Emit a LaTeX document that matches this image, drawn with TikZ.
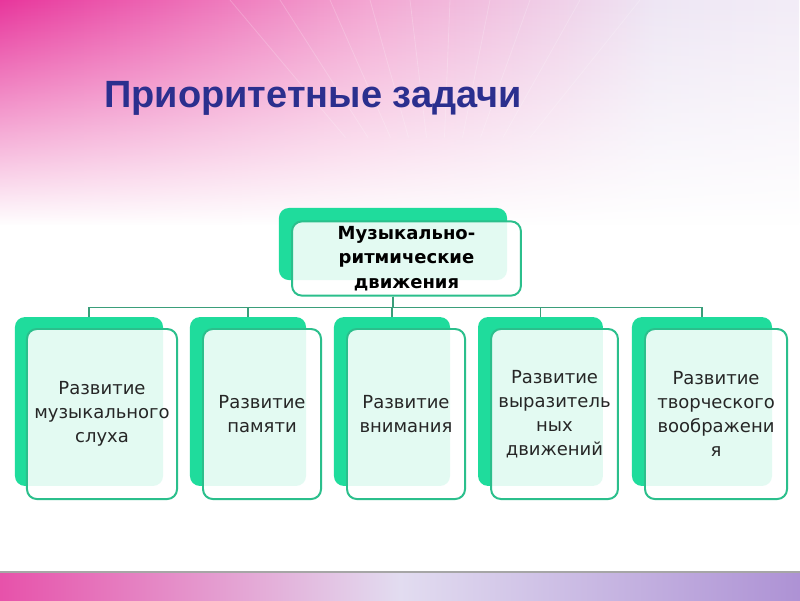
\documentclass[tikz,border=0pt]{standalone}
\usepackage{fontspec}
\setmainfont{DejaVu Sans}
\newfontfamily\titlefont{Liberation Sans}
\usepackage{xcolor}
\usepackage{tikz}
\usetikzlibrary{positioning,calc,fadings,shadings}
\definecolor{mint}{HTML}{1FDC9C}
\definecolor{mintline}{HTML}{2BBF8C}
\definecolor{linkgreen}{HTML}{3A9E7A}
\definecolor{titleblue}{HTML}{2B2F8E}
\definecolor{bodytext}{HTML}{262626}
\definecolor{pinkA}{HTML}{F07AB8}
\definecolor{pinkB}{HTML}{E8369C}
\definecolor{pinkC}{HTML}{F3A6D2}
\definecolor{lavA}{HTML}{EEE6F4}
\definecolor{purpA}{HTML}{A383CF}
\definecolor{lavB}{HTML}{E2DCF0}
\pgfdeclarehorizontalshading{banner}{100bp}{color(0bp)=(pinkA); color(25bp)=(pinkB); color(48bp)=(pinkC); color(66bp)=(lavA); color(100bp)=(white)}
\pgfdeclarehorizontalshading{footband}{100bp}{color(0bp)=(pinkC); color(20bp)=(pinkB); color(50bp)=(lavB); color(80bp)=(purpA); color(100bp)=(lavA)}
\tikzset{
    back/.style={
        rectangle, rounded corners=7pt, fill=mint, draw=none
    },
    card/.style={
        rectangle, rounded corners=7pt, draw=mintline, line width=1.4pt,
        fill=white, fill opacity=0.88, text opacity=1,
        align=center, text=bodytext, font=\fontsize{12.8}{17}\selectfont
    },
    headcard/.style={
        card, text=black, font=\fontsize{12.8}{17.5}\selectfont\bfseries
    },
    link/.style={draw=linkgreen, line width=1pt}
}

\begin{document}
\begin{tikzpicture}[x=0.025cm,y=-0.025cm]
\useasboundingbox (0,0) rectangle (800,600);

% ---- background ----
\fill[white] (0,0) rectangle (800,600);
\shade[shading=banner, path fading=south] (0,0) rectangle (800,225);
\foreach \tx in {230,280,330,370,410,450,490,530,580,640}
  \draw[white, opacity=0.2, line width=0.6pt] ($(440,250)!0.45!(\tx,0)$) -- (\tx,0);
\shade[shading=footband] (0,573) rectangle (800,600);
\draw[gray!70, line width=1.2pt] (0,572) -- (800,572);

% ---- title ----
\node[font=\titlefont\fontsize{27}{30}\selectfont\bfseries, text=titleblue] (title) at (313,98) {Приоритетные задачи};

% ---- Head (y=244) ----
\node[back, minimum width=5.7cm, minimum height=1.8cm] (hb) at (393,244) {};
\node[headcard, minimum width=5.72cm, minimum height=1.82cm] (hc) at (406.5,258.5) {Музыкально-\\ритмические\\движения};

% ---- Row of back boxes (y=401.5) ----
\node[back, minimum width=3.7cm,   minimum height=4.22cm] (b1) at (89,401.5)  {};
\node[back, minimum width=2.9cm,   minimum height=4.22cm] (b2) at (248,401.5) {};
\node[back, minimum width=2.9cm,   minimum height=4.22cm] (b3) at (392,401.5) {};
\node[back, minimum width=3.12cm,  minimum height=4.22cm] (b4) at (540.5,401.5) {};
\node[back, minimum width=3.5cm,   minimum height=4.22cm] (b5) at (702,401.5) {};

% ---- Row of cards (y=414) ----
\node[card, minimum width=3.75cm,  minimum height=4.25cm] (c1) at (102,414)   {Развитие\\музыкального\\слуха};
\node[card, minimum width=2.95cm,  minimum height=4.25cm] (c2) at (262,414)   {Развитие\\памяти};
\node[card, minimum width=2.95cm,  minimum height=4.25cm] (c3) at (406,414)   {Развитие\\внимания};
\node[card, minimum width=3.17cm,  minimum height=4.25cm] (c4) at (554.5,414) {Развитие\\выразитель\\ных\\движений};
\node[card, minimum width=3.55cm,  minimum height=4.25cm] (c5) at (716,414)   {Развитие\\творческого\\воображени\\я};

% Head -> every box (through the bus line)
\foreach \b in {b1,b2,b3,b4,b5}
  \draw[link] (hb.south |- hc.south) -- ++(0,11) -| (\b.north);

\end{tikzpicture}
\end{document}
